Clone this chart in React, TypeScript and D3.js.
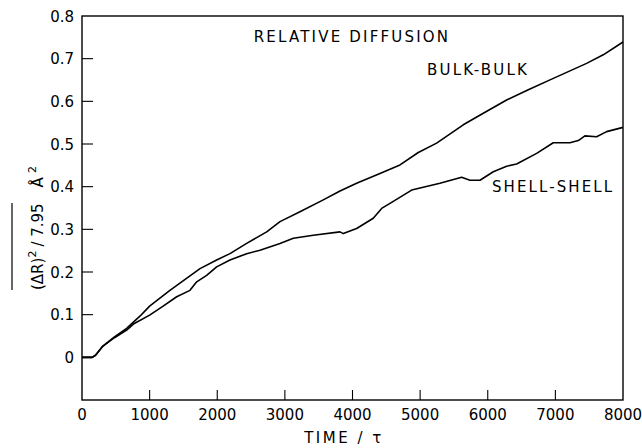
import React from "react";
import * as d3 from "d3";

const bulkTime = [0, 150, 200, 300, 480, 660, 860, 1000, 1300, 1745, 1991, 2188, 2435, 2731, 2928, 3223, 3568, 3815, 4061, 4406, 4702, 4973, 5244, 5638, 5934, 6279, 6600, 6945, 7462, 7708, 8000];
const bulkValue = [0, 0, 0.005, 0.025, 0.048, 0.068, 0.097, 0.12, 0.157, 0.208, 0.228, 0.243, 0.267, 0.294, 0.318, 0.341, 0.369, 0.39, 0.408, 0.431, 0.451, 0.48, 0.502, 0.545, 0.572, 0.603, 0.627, 0.652, 0.689, 0.709, 0.739];

const shellTime = [0, 150, 200, 300, 480, 660, 760, 1000, 1200, 1400, 1597, 1696, 1843, 1991, 2188, 2435, 2632, 2928, 3125, 3420, 3815, 3864, 4061, 4307, 4431, 4554, 4875, 5293, 5614, 5737, 5885, 6082, 6279, 6427, 6723, 6969, 7216, 7339, 7437, 7610, 7758, 8000];
const shellValue = [0, 0, 0.005, 0.025, 0.046, 0.064, 0.078, 0.099, 0.12, 0.142, 0.157, 0.177, 0.192, 0.212, 0.228, 0.243, 0.251, 0.267, 0.279, 0.286, 0.294, 0.29, 0.302, 0.326, 0.349, 0.361, 0.392, 0.408, 0.422, 0.415, 0.415, 0.435, 0.448, 0.453, 0.478, 0.503, 0.503, 0.508, 0.519, 0.517, 0.529, 0.539];

const xTicks = [0, 1000, 2000, 3000, 4000, 5000, 6000, 7000, 8000];
const yTicks = [0, 0.1, 0.2, 0.3, 0.4, 0.5, 0.6, 0.7, 0.8];
const yTickLabels = ["0", "0.1", "0.2", "0.3", "0.4", "0.5", "0.6", "0.7", "0.8"];

const FONT = "'DejaVu Sans', sans-serif";

export default function App() {
  const W = 642, H = 448;
  const x = d3.scaleLinear().domain([0, 8000]).range([82, 623]);
  const y = d3.scaleLinear().domain([-0.1, 0.8]).range([400, 16]);
  const line = d3.line<[number, number]>().x(d => x(d[0])).y(d => y(d[1]));
  const bulk = bulkTime.map((t, i) => [t, bulkValue[i]] as [number, number]);
  const shell = shellTime.map((t, i) => [t, shellValue[i]] as [number, number]);
  const [x0, x1] = x.range();
  const [yb, yt] = y.range();

  return (
    <svg width={W} height={H} style={{ position: "absolute", left: 0, top: 0, background: "#fff" }} fontFamily={FONT}>
      <rect x={x0} y={yt} width={x1 - x0} height={yb - yt} fill="none" stroke="#000" strokeWidth={1.4} />
      {xTicks.filter(t => t > 0 && t < 8000).map(t => (
        <line key={"xt" + t} x1={x(t)} x2={x(t)} y1={yb} y2={yb - 10} stroke="#000" strokeWidth={1.1} />
      ))}
      {yTicks.filter(t => t < 0.8).map(t => (
        <line key={"yt" + t} x1={x0} x2={x0 + 11} y1={y(t)} y2={y(t)} stroke="#000" strokeWidth={1.1} />
      ))}
      {xTicks.map(t => (
        <text key={"xl" + t} x={x(t)} y={420} textAnchor="middle" fontSize={15}>{t}</text>
      ))}
      {yTicks.map((t, i) => (
        <text key={"yl" + t} x={74} y={y(t) + 5.5} textAnchor="end" fontSize={15}>{yTickLabels[i]}</text>
      ))}
      <path d={line(bulk) || ""} fill="none" stroke="#000" strokeWidth={1.6} strokeLinejoin="round" />
      <path d={line(shell) || ""} fill="none" stroke="#000" strokeWidth={1.6} strokeLinejoin="round" />
      <text x={352} y={42} textAnchor="middle" fontSize={15} letterSpacing={2.2}>RELATIVE DIFFUSION</text>
      <text x={427} y={75} fontSize={15} letterSpacing={2.2}>BULK-BULK</text>
      <text x={492} y={191.5} fontSize={15} letterSpacing={2.1}>SHELL-SHELL</text>
      <text x={344} y={443} textAnchor="middle" fontSize={15} letterSpacing={2.5}>TIME / τ</text>
      <g transform="translate(43,290) rotate(-90)">
        <line x1={0} x2={87} y1={-31} y2={-31} stroke="#000" strokeWidth={1.2} />
        <text x={0} y={0} fontSize={15}>
          <tspan>(ΔR)</tspan>
          <tspan fontSize={11} dy={-7}>2</tspan>
          <tspan dy={7} dx={4}>/ 7.95</tspan>
          <tspan dx={16}>Å</tspan>
          <tspan fontSize={11} dy={-7} dx={4}>2</tspan>
        </text>
      </g>
    </svg>
  );
}
